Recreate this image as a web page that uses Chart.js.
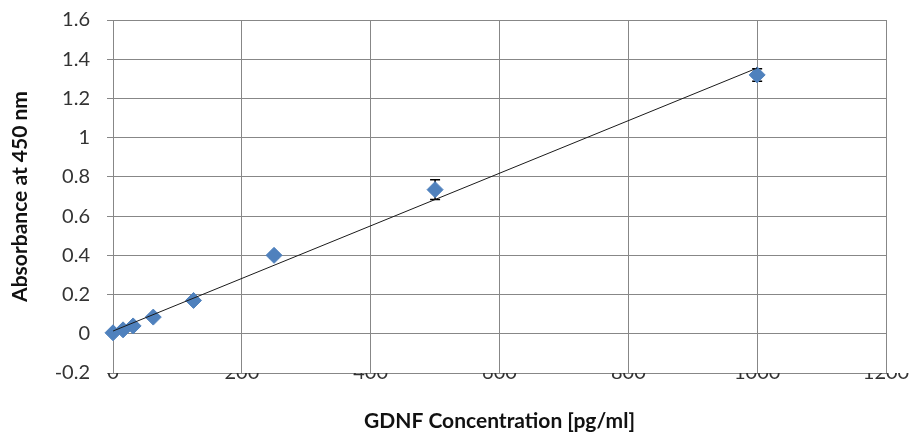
<!DOCTYPE html>
<html>
<head>
<meta charset="utf-8">
<script src="https://cdn.jsdelivr.net/npm/chart.js@4/dist/chart.umd.min.js"></script>
<style>
html,body{margin:0;padding:0;background:#fff;}
#wrap{width:913px;height:437px;}
</style>
</head>
<body>
<div id="wrap"><canvas id="c" width="913" height="437"></canvas></div>
<script>
// Data
const concentrations = [0, 15.6, 31.25, 62.5, 125, 250, 500, 1000];
const absorbance = [0.005, 0.02, 0.04, 0.085, 0.17, 0.40, 0.735, 1.32];
const errors = [0.003, 0.004, 0.005, 0.006, 0.008, 0.012, 0.05, 0.032];
const trendX = [0, 1000];
const trendY = [0.014, 1.355];
const xTicks = [0, 200, 400, 600, 800, 1000, 1200];
const yTicks = [-0.2, 0, 0.2, 0.4, 0.6, 0.8, 1, 1.2, 1.4, 1.6];
const xTitle = 'GDNF Concentration [pg/ml]';
const yTitle = 'Absorbance at 450 nm';

const FONT = 'Lato, "Open Sans", sans-serif';
const GRID = '#878787';

const errorBars = {
  id: 'errorBars',
  beforeDatasetsDraw(chart) {
    const ctx = chart.ctx;
    const xs = chart.scales.x, ys = chart.scales.y;
    ctx.save();
    ctx.strokeStyle = '#000';
    ctx.lineWidth = 1.5;
    concentrations.forEach((c, i) => {
      const px = xs.getPixelForValue(c);
      const top = ys.getPixelForValue(absorbance[i] + errors[i]);
      const bot = ys.getPixelForValue(absorbance[i] - errors[i]);
      ctx.beginPath();
      ctx.moveTo(px, top); ctx.lineTo(px, bot);
      ctx.moveTo(px - 5, top); ctx.lineTo(px + 5, top);
      ctx.moveTo(px - 5, bot); ctx.lineTo(px + 5, bot);
      ctx.stroke();
    });
    ctx.restore();
  }
};

new Chart(document.getElementById('c'), {
  type: 'scatter',
  data: {
    datasets: [
      {
        type: 'line',
        label: 'Linear fit',
        data: trendX.map((x, i) => ({x: x, y: trendY[i]})),
        borderColor: '#1a1a1a',
        borderWidth: 1,
        pointRadius: 0,
        fill: false,
        clip: false,
        order: 0
      },
      {
        label: 'GDNF standard',
        data: concentrations.map((x, i) => ({x: x, y: absorbance[i]})),
        pointStyle: 'rectRot',
        pointRadius: 8,
        pointHoverRadius: 8,
        backgroundColor: '#4F81BD',
        borderColor: '#4F81BD',
        borderWidth: 1,
        clip: false,
        order: 1
      }
    ]
  },
  options: {
    responsive: false,
    animation: false,
    devicePixelRatio: 1,
    layout: {padding: {left: 0, right: 27, top: 20, bottom: 0}},
    plugins: {legend: {display: false}, tooltip: {enabled: false}},
    scales: {
      x: {
        type: 'linear',
        min: 0, max: 1200,
        afterBuildTicks(scale) { scale.ticks = xTicks.map(v => ({value: v})); },
        afterFit(scale) { scale.height = 64; },
        grid: {color: GRID, lineWidth: 1, drawTicks: false},
        border: {display: true, color: GRID},
        ticks: {padding: -12, color: '#333', font: {family: FONT, size: 20}, maxRotation: 0,
                callback: v => String(v)},
        title: {display: true, text: xTitle, color: '#111', font: {family: FONT, size: 21, weight: 'bold'},
                padding: {top: 0, bottom: 3}}
      },
      y: {
        type: 'linear',
        min: -0.2, max: 1.6,
        afterBuildTicks(scale) { scale.ticks = yTicks.map(v => ({value: v})); },
        afterFit(scale) { scale.width = 113; scale.paddingTop = 0; scale.paddingBottom = 0; },
        grid: {color: GRID, lineWidth: 1, tickLength: 6},
        border: {display: true, color: GRID},
        ticks: {padding: 17, color: '#333', font: {family: FONT, size: 20},
                callback: v => String(Math.round(v * 10) / 10)},
        title: {display: true, text: yTitle, color: '#111', font: {family: FONT, size: 21, weight: 'bold'},
                padding: {top: 8, bottom: 0}}
      }
    }
  },
  plugins: [errorBars]
});
</script>
</body>
</html>
